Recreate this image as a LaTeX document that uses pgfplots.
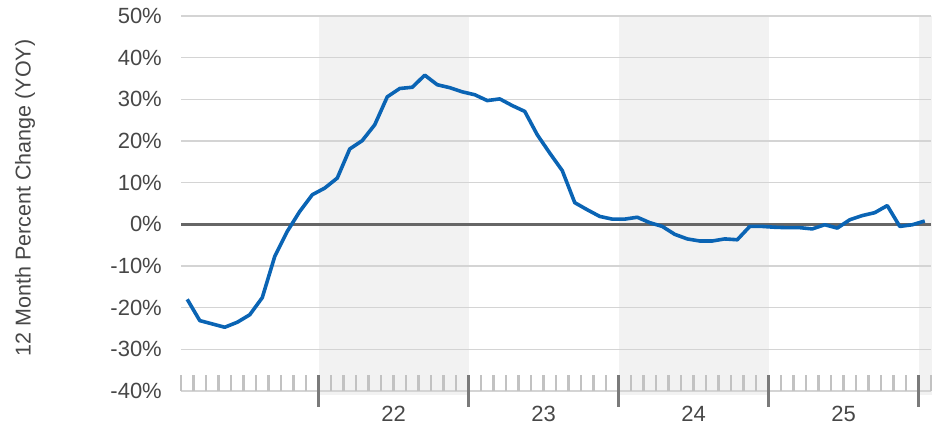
\documentclass[border=0pt]{standalone}
\usepackage{pgfplots}
\pgfplotsset{compat=1.18}
\usepackage{fontspec}
\setmainfont{Liberation Sans}
\definecolor{lineblue}{HTML}{0A64B4}
\definecolor{bandc}{HTML}{F2F2F2}
\definecolor{gridc}{HTML}{D4D4D4}
\definecolor{labc}{HTML}{474747}
\definecolor{minorc}{HTML}{C2C2C2}
\definecolor{majorc}{HTML}{7A7A7A}
\definecolor{zeroc}{HTML}{666666}
\begin{document}
\begin{tikzpicture}[x=1bp,y=1bp]
\begin{axis}[
  set layers,
  at={(181bp,39bp)}, anchor=south west,
  scale only axis, width=750bp, height=375bp,
  xmin=-11, xmax=49, ymin=-40, ymax=50,
  clip=false,
  axis line style={draw=none},
  major tick length=0pt, minor tick length=0pt,
  ytick={-40,-30,-20,-10,0,10,20,30,40,50},
  yticklabels={-40\%,-30\%,-20\%,-10\%,0\%,10\%,20\%,30\%,40\%,50\%},
  xtick={6,18,30,42},
  xticklabels={22,23,24,25},
  ymajorgrids,
  grid style={gridc, line width=1.6bp},
  tick label style={font=\fontsize{22bp}{24bp}\selectfont, text=labc},
  yticklabel style={inner sep=0pt, xshift=-19bp},
  xticklabel style={inner sep=0pt, yshift=-15bp},
]
\begin{pgfonlayer}{axis background}
  \fill[bandc] (axis cs:0,-41) rectangle (axis cs:12,50);
  \fill[bandc] (axis cs:24,-41) rectangle (axis cs:36,50);
  \fill[bandc] (axis cs:48,-41) rectangle (axis cs:49.1,50);
\end{pgfonlayer}
\draw[zeroc, line width=2.4bp] (axis cs:-11,0) -- (axis cs:49,0);
\draw[gridc, line width=1.6bp] (axis cs:-11,-40) -- (axis cs:49,-40);
\pgfplotsinvokeforeach{-11,...,49}{
  \draw[minorc, line width=2.8bp] (axis cs:#1,-40) -- (axis cs:#1,-36.16);
}
\pgfplotsinvokeforeach{0,12,24,36,48}{
  \draw[majorc, line width=3.4bp] (axis cs:#1,-36.16) -- (axis cs:#1,-43.84);
}
\addplot[lineblue, line width=3.6bp, line join=round, mark=none] coordinates {
(-10.5,-18.0)(-9.5,-23.1)(-8.5,-23.9)(-7.5,-24.7)(-6.5,-23.5)(-5.5,-21.7)
(-4.5,-17.6)(-3.5,-7.7)(-2.5,-1.7)(-1.5,3.1)(-0.5,7.1)(0.5,8.7)
(1.5,11.1)(2.5,18.1)(3.5,20.1)(4.5,23.9)(5.5,30.6)(6.5,32.6)
(7.5,32.9)(8.5,35.8)(9.5,33.5)(10.5,32.8)(11.5,31.8)(12.5,31.1)
(13.5,29.7)(14.5,30.1)(15.5,28.5)(16.5,27.1)(17.5,21.5)(18.5,17.1)
(19.5,12.9)(20.5,5.2)(21.5,3.5)(22.5,1.9)(23.5,1.25)(24.5,1.25)
(25.5,1.7)(26.5,0.4)(27.5,-0.5)(28.5,-2.4)(29.5,-3.5)(30.5,-4.0)
(31.5,-4.0)(32.5,-3.5)(33.5,-3.7)(34.5,-0.5)(35.5,-0.5)(36.5,-0.7)
(37.5,-0.8)(38.5,-0.8)(39.5,-1.1)(40.5,-0.1)(41.5,-0.9)(42.5,1.1)
(43.5,2.1)(44.5,2.8)(45.5,4.5)(46.5,-0.5)(47.5,-0.1)(48.5,0.8)
};
\end{axis}
\node[rotate=90, text=labc, font=\fontsize{21.5bp}{24bp}\selectfont] at (25,232) {12 Month Percent Change (YOY)};
\pgfresetboundingbox
\useasboundingbox (0,0) rectangle (947,430);
\end{tikzpicture}
\end{document}
